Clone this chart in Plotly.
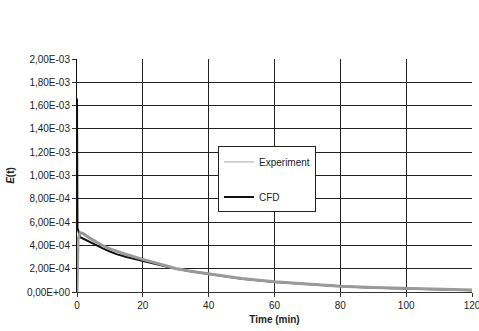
import plotly.graph_objects as go

# Experiment series (time in min, E(t))
exp_t = [0, 0.3, 1, 2, 4, 6, 8, 10, 12, 15, 20, 25, 30, 35, 40, 50, 60, 70, 80, 90, 100, 110, 120]
exp_e = [0, 4.5e-4, 5.1e-4, 5.0e-4, 4.6e-4, 4.25e-4, 3.95e-4, 3.7e-4, 3.5e-4, 3.22e-4, 2.8e-4,
         2.38e-4, 2.02e-4, 1.76e-4, 1.55e-4, 1.15e-4, 0.87e-4, 0.66e-4, 0.5e-4, 0.38e-4, 0.29e-4,
         0.22e-4, 0.17e-4]

# CFD series
cfd_t = [0, 0.15, 1, 2, 4, 6, 8, 10, 12, 15, 20, 25, 30, 35, 40, 50, 60, 70, 80, 90, 100, 110, 120]
cfd_e = [1.66e-3, 5.5e-4, 4.7e-4, 4.55e-4, 4.3e-4, 4.0e-4, 3.72e-4, 3.48e-4, 3.25e-4, 3.0e-4, 2.65e-4,
         2.3e-4, 2.0e-4, 1.75e-4, 1.53e-4, 1.14e-4, 0.86e-4, 0.65e-4, 0.49e-4, 0.37e-4, 0.28e-4,
         0.21e-4, 0.16e-4]

y_tickvals = [0, 2e-4, 4e-4, 6e-4, 8e-4, 1e-3, 1.2e-3, 1.4e-3, 1.6e-3, 1.8e-3, 2e-3]
y_ticktext = ["0,00E+00", "2,00E-04", "4,00E-04", "6,00E-04", "8,00E-04", "1,00E-03",
              "1,20E-03", "1,40E-03", "1,60E-03", "1,80E-03", "2,00E-03"]
x_tickvals = [0, 20, 40, 60, 80, 100, 120]

FONT = "Liberation Sans, Arial, sans-serif"

fig = go.Figure()
fig.add_trace(go.Scatter(x=cfd_t, y=cfd_e, mode="lines", name="CFD",
                         line=dict(color="#111111", width=2), showlegend=False))
fig.add_trace(go.Scatter(x=exp_t, y=exp_e, mode="lines", name="Experiment",
                         line=dict(color="#9a9a9a", width=3), showlegend=False))
# legend entries
fig.add_trace(go.Scatter(x=[None], y=[None], mode="lines", name="Experiment",
                         line=dict(color="#aaaaaa", width=1), legendgroup="a"))
fig.add_trace(go.Scatter(x=[None], y=[None], mode="lines", name="CFD",
                         line=dict(color="#111111", width=2), legendgroup="b"))

fig.update_layout(
    width=479, height=331,
    margin=dict(l=77, r=7, t=59, b=39),
    paper_bgcolor="white", plot_bgcolor="white",
    font=dict(family=FONT, size=10, color="#222"),
    legend=dict(x=0.357, y=0.625, xanchor="left", yanchor="top",
                bgcolor="white", bordercolor="#222", borderwidth=1,
                font=dict(size=10, color="#222"), tracegroupgap=16,
                itemwidth=30),
    xaxis=dict(range=[0, 120], tickvals=x_tickvals, showgrid=True, gridcolor="#222",
               gridwidth=1, zeroline=False, showline=True, linecolor="#333", linewidth=1,
               ticks="outside", ticklen=4, tickcolor="#333", ticklabeloverflow="allow",
               automargin=False,
               title=dict(text="<b>Time (min)</b>", font=dict(size=10), standoff=5)),
    yaxis=dict(range=[0, 2e-3], tickvals=y_tickvals, ticktext=y_ticktext, showgrid=True,
               gridcolor="#222", gridwidth=1, zeroline=False, showline=True, linecolor="#111",
               linewidth=1, ticks="outside", ticklen=4, tickcolor="#333", automargin=False,
               title=dict(text="<b><i>E</i>(t)</b>", font=dict(size=10), standoff=10)),
)

fig.write_html("out.html")
